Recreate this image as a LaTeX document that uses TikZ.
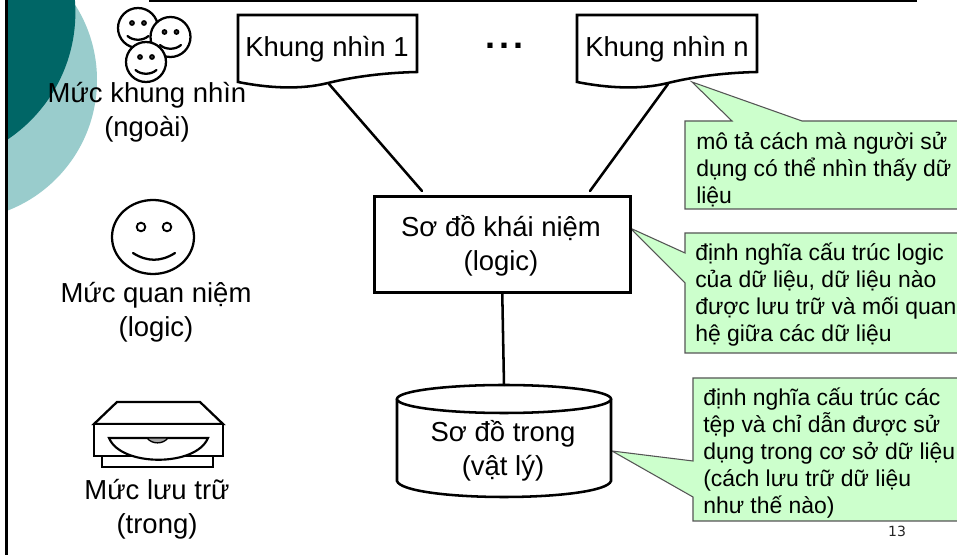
\documentclass[tikz,border=0pt]{standalone}
\usepackage{fontspec}
\setmainfont{Liberation Sans}
\newfontfamily\numfont{DejaVu Sans}
\definecolor{tealdark}{HTML}{006666}
\definecolor{teallight}{HTML}{99CCCC}
\definecolor{callfill}{HTML}{CCFFCC}
\definecolor{callline}{HTML}{555555}
\tikzset{
  thick line/.style={line width=1.9pt,black,line cap=round,line join=miter},
  face line/.style={line width=1.7pt,black,line cap=round},
  call/.style={fill=callfill,draw=callline,line width=0.8pt,line join=miter},
  maintext/.style={inner sep=0pt,anchor=base,align=center,font=\fontsize{20.6pt}{25.6pt}\selectfont},
  calltext/.style={inner sep=0pt,anchor=base west,align=left,font=\fontsize{17.2pt}{20.25pt}\selectfont},
  smallface/.pic={
    \draw[face line,fill=white] (0,0) circle (20);
    \draw[line width=1.3pt,fill=black!70] (-6,-5) circle (2);
    \draw[line width=1.3pt,fill=black!70] (6,-5) circle (2);
    \draw[face line] (-10.5,8) .. controls (-5,13) and (5,13) .. (10.5,8);
  },
}
\begin{document}
\begin{tikzpicture}[x=0.75pt,y=-0.75pt]
\useasboundingbox (0,0) rectangle (957,555);
\clip (0,0) rectangle (957,555);
\fill[white] (0,0) rectangle (957,555);
% decoration
\fill[teallight] (-43,80) circle (140);
\fill[tealdark] (-77.6,12.4) circle (153);
\fill[white] (0,0) rectangle (6,555);
\draw[line width=1.6pt] (6.5,0) -- (6.5,555);
\draw[line width=1.3pt] (149,1) -- (917,1);
% smileys
\pic at (138,28) {smallface};
\pic at (170.5,37) {smallface};
\pic at (146,62) {smallface};
% big face
\draw[face line,fill=white] (153,237) ellipse (41 and 37);
\draw[line width=1.4pt] (141,227) circle (4.3);
\draw[line width=1.4pt] (167,227) circle (4.3);
\draw[face line] (133,253) .. controls (147,262) and (161,262) .. (175,253);
% drive
\draw[thick line,line width=1.6pt] (102,456) -- (102,467) -- (213,467) -- (213,456);
\draw[thick line,line width=1.7pt,fill=white] (94,424) -- (117,402) -- (200,402) -- (223,424) -- cycle;
\draw[thick line,line width=1.7pt,fill=white] (94,424) rectangle (223,456);
\draw[thick line,line width=1.6pt,fill=white] (109,438) -- (208,438) .. controls (196,467) and (121,467) .. (109,438) -- cycle;
\draw[line width=1pt,fill=black!35] (147,438) .. controls (152,444.5) and (163,444.5) .. (168,438) -- cycle;
% level labels
\node[maintext] (lv1) at (147,136.5) {Mức khung nhìn\\(ngoài)};
\node[maintext] (lv2) at (156,337) {Mức quan niệm\\(logic)};
\node[maintext] (lv3) at (157,534) {Mức lưu trữ\\(trong)};
% callouts
\draw[call] (685,121) -- (732,121) -- (692,82) -- (802,121) -- (965,121) -- (965,209) -- (685,209) -- cycle;
\draw[call] (685,233) -- (965,233) -- (965,353) -- (685,353) -- (685,283) -- (630,228) -- (685,253) -- cycle;
\draw[call] (693,378) -- (965,378) -- (965,521) -- (693,521) -- (693,497) -- (612,451) -- (693,461) -- cycle;
\node[calltext] (c1) at (696,204) {mô tả cách mà người sử\\dụng có thể nhìn thấy dữ\\liệu};
\node[calltext] (c2) at (695,342) {định nghĩa cấu trúc logic\\của dữ liệu, dữ liệu nào\\được lưu trữ và mối quan\\hệ giữa các dữ liệu};
\node[calltext] (c3) at (703,514) {định nghĩa cấu trúc các\\tệp và chỉ dẫn được sử\\dụng trong cơ sở dữ liệu\\(cách lưu trữ dữ liệu\\như thế nào)};
% documents
\draw[thick line,fill=white] (238,15) -- (417,15) -- (417,72) .. controls (372,73) and (340,80) .. (328,83) .. controls (300,90) and (268,88) .. (238,82) -- cycle;
\draw[thick line,fill=white] (577,15) -- (757,15) -- (757,72) .. controls (712,73) and (680,80) .. (668,83) .. controls (640,90) and (607,88) .. (577,82) -- cycle;
\node[maintext] (doc1) at (327,57) {Khung nhìn 1};
\node[maintext] (docn) at (667,57) {Khung nhìn n};
\node[inner sep=0pt,anchor=base,font=\bfseries\fontsize{27pt}{30pt}\selectfont] (dots) at (504,48.5) {.\hspace{3pt}.\hspace{3pt}.};
\coordinate (doc1b) at (329,84);
\coordinate (docnb) at (668,84);
\coordinate (box1) at (422,191);
\coordinate (box2) at (590,191);
\coordinate (cyltop) at (504,385);
% conceptual box
\node[draw,thick line,fill=white,minimum width=256*0.75pt,minimum height=96*0.75pt,inner sep=0pt,anchor=north west] (box) at (373,195) {};
\node[maintext] (boxt) at (501,270.5) {Sơ đồ khái niệm\\(logic)};
% cylinder
\draw[thick line,fill=white] (397,399) -- (397,481) .. controls (400,491) and (450,497) .. (504,497) .. controls (558,497) and (608,491) .. (611,481) -- (611,399);
\draw[thick line,fill=white] (504,399) ellipse (107 and 14);
\node[maintext] (cyl) at (503,475.5) {Sơ đồ trong\\(vật lý)};
% connectors
\draw[thick line] (doc1b) -- (box1);
\draw[thick line] (docnb) -- (box2);
\draw[thick line] (box.south) -- (cyltop);
% page number
\node[inner sep=0pt,anchor=base,font=\numfont\fontsize{10.5pt}{12pt}\selectfont,text=black!85] (pg) at (897,537) {13};
\end{tikzpicture}
\end{document}
